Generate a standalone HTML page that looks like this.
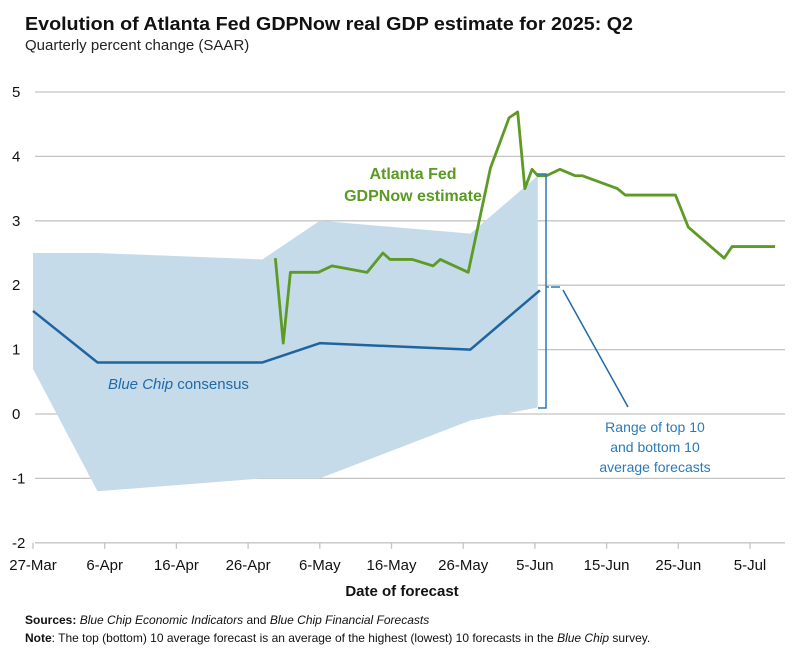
<!DOCTYPE html>
<html><head><meta charset="utf-8"><style>
body{margin:0;background:#fff;}
svg{display:block;font-family:"Liberation Sans",sans-serif;}
</style></head><body>
<svg id="chart" width="804" height="660" viewBox="0 0 804 660">
<text x="25" y="30" font-size="18" font-weight="bold" fill="#111" textLength="608" lengthAdjust="spacingAndGlyphs">Evolution of Atlanta Fed GDPNow real GDP estimate for 2025: Q2</text>
<text x="25" y="50" font-size="15" fill="#222">Quarterly percent change (SAAR)</text>
<g id="grid"></g>
<g id="band"></g>
<g id="lines"></g>
<g id="ann">
<text x="413" y="179" font-size="16" font-weight="bold" fill="#5a9a22" text-anchor="middle">Atlanta Fed</text>
<text x="413" y="201" font-size="16" font-weight="bold" fill="#5a9a22" text-anchor="middle">GDPNow estimate</text>
<text x="108" y="389" font-size="15" fill="#1f6aa8"><tspan font-style="italic">Blue Chip</tspan> consensus</text>
<text x="655" y="432" font-size="14" fill="#2a7ab8" text-anchor="middle">Range of top 10</text>
<text x="655" y="452" font-size="14" fill="#2a7ab8" text-anchor="middle">and bottom 10</text>
<text x="655" y="472" font-size="14" fill="#2a7ab8" text-anchor="middle">average forecasts</text>
<path d="M537 174 H546 V408 H538 M546 287 H549 M551 287 H560" fill="none" stroke="#2a7ab8" stroke-width="1.5"/>
<line x1="563" y1="290" x2="628" y2="407" stroke="#1f6aa8" stroke-width="1.5"/>
</g>
<text x="402" y="596" font-size="15" font-weight="bold" fill="#111" text-anchor="middle">Date of forecast</text>
<text x="25" y="624" font-size="12" fill="#111"><tspan font-weight="bold">Sources: </tspan><tspan font-style="italic">Blue Chip Economic Indicators</tspan> and <tspan font-style="italic">Blue Chip Financial Forecasts</tspan></text>
<text x="25" y="642" font-size="12" fill="#111"><tspan font-weight="bold">Note</tspan>: The top (bottom) 10 average forecast is an average of the highest (lowest) 10 forecasts in the <tspan font-style="italic">Blue Chip</tspan> survey.</text>
</svg>
<script>
// days since 27-Mar
const yTicks=[5,4,3,2,1,0,-1,-2];
const xTickDays=[0,10,20,30,40,50,60,70,80,90,100];
const xTickLabels=["27-Mar","6-Apr","16-Apr","26-Apr","6-May","16-May","26-May","5-Jun","15-Jun","25-Jun","5-Jul"];
const bandDays=[0,9,32,40,61,70.4];
const bandTop=[2.5,2.5,2.4,3.0,2.8,3.7];
const bandBottom=[0.7,-1.2,-1.0,-1.0,-0.1,0.1];
const bcDays=[0,9,32,40,61,70.7];
const bcValues=[1.6,0.8,0.8,1.1,1.0,1.92];
const gdDays=[33.8,34.9,35.9,39.8,41.7,46.6,48.8,49.8,52.9,55.8,56.8,60.7,63.8,66.4,67.6,68.6,69.6,70.4,71.6,73.5,75.6,76.6,81.5,82.6,89.6,91.4,96.4,97.5,103.5];
const gdValues=[2.42,1.1,2.2,2.2,2.3,2.2,2.5,2.4,2.4,2.3,2.4,2.2,3.82,4.6,4.69,3.5,3.8,3.7,3.7,3.8,3.7,3.7,3.5,3.4,3.4,2.9,2.42,2.6,2.6];
const NS='http://www.w3.org/2000/svg';
const X=d=>33+d*7.17;
const Y=v=>414-v*64.4;
function mk(tag,attrs,parent){const e=document.createElementNS(NS,tag);for(const k in attrs)e.setAttribute(k,attrs[k]);parent.appendChild(e);return e;}
const grid=document.getElementById('grid');
yTicks.forEach(v=>{
 const l=mk('line',{x1:35,x2:785,y1:Y(v),y2:Y(v),stroke:'#c4c4c4','stroke-width':1.3},grid);
 
 
 const t=mk('text',{x:12,y:Y(v)+5,'font-size':15,fill:'#111'},grid);
 t.textContent=v;
 
 
});
xTickDays.forEach((d,i)=>{
 const l=mk('line',{x1:X(d),x2:X(d),y1:Y(-2),y2:Y(-2)+6,stroke:'#c4c4c4','stroke-width':1.3},grid);
 
 
 const t=mk('text',{x:X(d),y:Y(-2)+27,'font-size':15,fill:'#111','text-anchor':'middle'},grid);
 t.textContent=xTickLabels[i];
 
 
});
let pts=bandDays.map((d,i)=>X(d)+','+Y(bandTop[i]));
for(let i=bandDays.length-1;i>=0;i--)pts.push(X(bandDays[i])+','+Y(bandBottom[i]));
const poly=mk('polygon',{points:pts.join(' '),fill:'#c5dbe9'},document.getElementById('band'));


const lines=document.getElementById('lines');
const bc=mk('polyline',{points:bcDays.map((d,i)=>X(d)+','+Y(bcValues[i])).join(' '),fill:'none',stroke:'#1f64a0','stroke-width':2.5,'stroke-linejoin':'round'},lines);


const gd=mk('polyline',{points:gdDays.map((d,i)=>X(d)+','+Y(gdValues[i])).join(' '),fill:'none',stroke:'#5e9a26','stroke-width':2.8,'stroke-linejoin':'round'},lines);


</script>
</body></html>
